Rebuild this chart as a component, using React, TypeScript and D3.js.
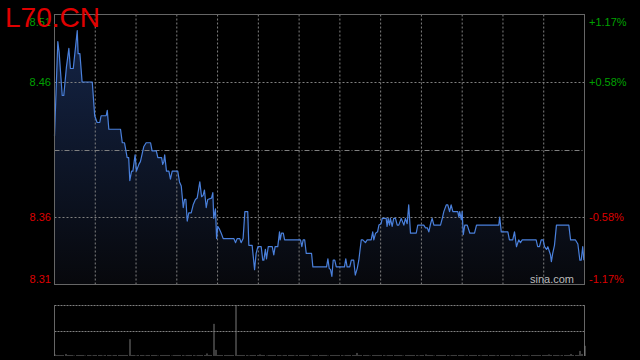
import React from "react";
import * as d3 from "d3";

const TITLE = "L70.CN";
const PRICE_MIN = 8.31;
const PRICE_MAX = 8.51;
const PREV_CLOSE = 8.41;
const MINUTES = 240;
const GRID_COLS = 13;
const VOL_MAX = 100;

const priceTicks = [8.51, 8.46, 8.36, 8.31];
const priceLabels = ["8.51", "8.46", "8.36", "8.31"];
const pctLabels = ["+1.17%", "+0.58%", "-0.58%", "-1.17%"];

// minute positions of polyline vertices
const priceT = [
  0, 1.5, 2.1, 3.5, 4.2, 5.4, 6.5, 7.2, 8.5, 10.3, 10.7, 11.5, 12.5, 17.1, 18.2, 19.3, 20.5, 21.1, 23.4, 23.9,
  24.6, 29.9, 30.7, 31.7, 32.9, 33.6, 34.1, 34.9, 35.5, 36.5, 37.1, 38.2, 38.9, 40.4, 41.5, 43.5, 44.2, 46.1, 46.8, 48.5,
  49.0, 49.5, 49.9, 50.7, 51.8, 52.5, 53.3, 55.8, 56.6, 57.4, 58.3, 58.9, 59.5, 60.1, 60.8, 61.9, 62.8, 63.8, 64.6, 65.8,
  66.6, 67.3, 67.9, 68.7, 69.4, 71.1, 71.7, 72.1, 72.9, 73.4, 73.9, 74.7, 75.5, 76.4, 81.2, 82.0, 82.7, 83.9, 84.5, 85.4,
  86.2, 87.5, 88.0, 89.5, 90.6, 91.3, 92.1, 93.6, 94.3, 94.8, 95.5, 96.0, 96.8, 98.6, 99.3, 99.9, 101.1, 101.9, 102.2, 102.8,
  103.6, 104.2, 111.4, 112.0, 112.6, 113.3, 114.0, 116.4, 117.0, 123.2, 123.8, 124.4, 125.0, 125.6, 126.2, 126.9, 127.6, 131.3, 131.9, 132.5,
  133.7, 134.4, 135.5, 136.2, 137.1, 137.8, 138.9, 139.6, 140.8, 141.6, 143.4, 144.1, 144.6, 145.4, 146.3, 146.9, 147.9, 148.4, 150.2, 150.6,
  151.1, 151.7, 152.1, 152.9, 153.6, 154.4, 155.2, 155.9, 157.0, 158.2, 158.9, 159.7, 160.4, 161.2, 163.8, 164.5, 167.2, 168.0, 168.8, 169.5,
  170.3, 171.0, 171.8, 174.8, 175.6, 176.3, 177.4, 178.1, 178.9, 179.6, 180.4, 182.6, 183.1, 183.5, 184.2, 184.6, 185.1, 185.8, 186.9, 188.1,
  190.2, 191.1, 201.2, 201.6, 202.3, 205.3, 206.0, 207.5, 208.3, 209.2, 210.2, 211.0, 211.8, 218.1, 218.8, 219.6, 220.4, 221.3, 221.9, 222.8,
  223.4, 224.6, 225.0, 225.6, 226.4, 227.3, 232.9, 233.7, 235.9, 237.0, 237.9, 238.5, 239.2, 239.7,
];

const priceV = [
  8.420, 8.490, 8.482, 8.450, 8.450, 8.471, 8.485, 8.470, 8.470, 8.498, 8.481, 8.481, 8.460, 8.460, 8.435, 8.430, 8.430, 8.435, 8.435, 8.439,
  8.425, 8.425, 8.415, 8.415, 8.404, 8.404, 8.387, 8.394, 8.394, 8.406, 8.394, 8.399, 8.401, 8.412, 8.415, 8.415, 8.409, 8.409, 8.404, 8.404,
  8.399, 8.401, 8.406, 8.394, 8.394, 8.388, 8.394, 8.394, 8.386, 8.383, 8.367, 8.373, 8.373, 8.357, 8.363, 8.363, 8.369, 8.373, 8.374, 8.386,
  8.375, 8.376, 8.380, 8.367, 8.373, 8.374, 8.378, 8.359, 8.366, 8.344, 8.353, 8.351, 8.348, 8.344, 8.344, 8.341, 8.344, 8.344, 8.341, 8.344,
  8.364, 8.364, 8.339, 8.339, 8.321, 8.333, 8.338, 8.338, 8.328, 8.328, 8.336, 8.329, 8.338, 8.338, 8.332, 8.338, 8.338, 8.349, 8.343, 8.348,
  8.348, 8.343, 8.343, 8.338, 8.343, 8.343, 8.333, 8.333, 8.323, 8.323, 8.329, 8.322, 8.321, 8.316, 8.328, 8.328, 8.323, 8.323, 8.329, 8.323,
  8.323, 8.328, 8.328, 8.317, 8.322, 8.328, 8.343, 8.343, 8.341, 8.343, 8.343, 8.349, 8.343, 8.348, 8.349, 8.354, 8.355, 8.359, 8.359, 8.353,
  8.359, 8.354, 8.359, 8.353, 8.359, 8.359, 8.354, 8.354, 8.359, 8.354, 8.359, 8.355, 8.369, 8.348, 8.348, 8.354, 8.354, 8.352, 8.352, 8.349,
  8.355, 8.359, 8.354, 8.354, 8.359, 8.364, 8.369, 8.369, 8.364, 8.369, 8.364, 8.364, 8.360, 8.364, 8.358, 8.364, 8.347, 8.354, 8.354, 8.348,
  8.348, 8.354, 8.354, 8.360, 8.349, 8.349, 8.343, 8.343, 8.349, 8.338, 8.343, 8.341, 8.343, 8.343, 8.338, 8.338, 8.343, 8.343, 8.338, 8.336,
  8.338, 8.332, 8.327, 8.333, 8.339, 8.354, 8.354, 8.343, 8.343, 8.340, 8.328, 8.328, 8.338, 8.328,
];

// per-minute volume (relative)
const volume = [
  3, 2, 2, 2, 2, 4, 2, 2, 2, 1, 2, 2, 2, 2, 1, 2, 2, 1, 2, 2,
  2, 2, 1, 2, 2, 2, 1, 2, 2, 2, 2, 2, 2, 2, 33, 2, 2, 1, 2, 2,
  2, 1, 2, 2, 2, 2, 2, 1, 2, 2, 2, 2, 2, 1, 2, 2, 2, 2, 2, 1,
  2, 2, 2, 2, 1, 2, 2, 2, 2, 5, 2, 2, 63, 12, 2, 2, 2, 2, 2, 2,
  2, 2, 100, 2, 2, 2, 2, 2, 1, 2, 2, 2, 2, 3, 2, 2, 1, 2, 2, 2,
  2, 2, 2, 1, 2, 2, 2, 2, 2, 1, 2, 2, 2, 2, 2, 2, 1, 2, 2, 2,
  2, 2, 2, 2, 1, 2, 2, 2, 2, 2, 2, 1, 2, 2, 2, 2, 2, 6, 2, 2,
  2, 2, 2, 1, 2, 2, 2, 2, 2, 2, 1, 2, 2, 2, 2, 2, 2, 2, 1, 2,
  2, 2, 2, 2, 2, 1, 2, 2, 3, 2, 2, 2, 1, 2, 2, 2, 2, 2, 2, 1,
  2, 2, 2, 2, 2, 2, 1, 2, 2, 2, 2, 2, 2, 1, 2, 2, 2, 2, 2, 2,
  1, 2, 2, 2, 2, 2, 2, 2, 1, 2, 2, 2, 2, 2, 2, 1, 2, 2, 2, 2,
  2, 2, 2, 2, 3, 2, 2, 2, 2, 1, 2, 2, 2, 2, 4, 2, 2, 2, 10, 4, 20,
];

const FONT = "'Liberation Sans', Arial, Helvetica, sans-serif";
const GREEN = "#00a000";
const RED = "#dd0000";
const GRID = "#808080";
const FRAME = "#666666";

export default function App() {
  const W = 640, H = 360;
  const L = 54.5, R = 584.5, T = 14.5, B = 284.5;
  const VT = 305, VB = 356;

  const x = d3.scaleLinear().domain([0, MINUTES]).range([L, R]);
  const y = d3.scaleLinear().domain([PRICE_MIN, PRICE_MAX]).range([B, T]);
  const yv = d3.scaleLinear().domain([0, VOL_MAX]).range([VB, VT]);

  const pts: [number, number][] = priceT.map((t, i) => [t, priceV[i]]);
  const line = d3.line<[number, number]>().x(d => x(d[0])).y(d => y(d[1]));
  const area = d3.area<[number, number]>().x(d => x(d[0])).y0(y(PRICE_MIN)).y1(d => y(d[1]));

  const cols = d3.range(1, GRID_COLS).map(k => L + (k * (R - L)) / GRID_COLS);

  const labelY = (i: number, v: number) => {
    const yy = y(v);
    if (i === 0) return yy + 7 + 4;
    if (i === priceTicks.length - 1) return yy - 6 + 4;
    return yy + 4;
  };

  return (
    <svg width={W} height={H} style={{ position: "absolute", left: 0, top: 0, background: "#000" }}>
      <defs>
        <linearGradient id="fillG" gradientUnits="userSpaceOnUse" x1="0" y1={T} x2="0" y2={B}>
          <stop offset="0%" stopColor="#15264a" />
          <stop offset="100%" stopColor="#07080c" />
        </linearGradient>
      </defs>
      <rect x={0} y={0} width={W} height={H} fill="#000" />

      {/* area */}
      <path d={area(pts) || ""} fill="url(#fillG)" />

      {/* grid */}
      {cols.map((cx, i) => (
        <line key={"c" + i} x1={cx} x2={cx} y1={T} y2={B} stroke={GRID} strokeDasharray="2,2" strokeWidth={1} />
      ))}
      {[PRICE_MAX - 0.05, PRICE_MIN + 0.05].map((v, i) => (
        <line key={"h" + i} x1={L} x2={R} y1={Math.round(y(v)) + 0.5} y2={Math.round(y(v)) + 0.5} stroke={GRID} strokeDasharray="2,2" />
      ))}
      <line x1={L} x2={R} y1={Math.round(y(PREV_CLOSE)) + 0.5} y2={Math.round(y(PREV_CLOSE)) + 0.5} stroke={GRID} strokeDasharray="5,2,1,2" />

      <text x={574} y={283} fontFamily={FONT} fontSize={11} fill="#bbbbbb" textAnchor="end">sina.com</text>

      {/* line */}
      <path d={line(pts) || ""} fill="none" stroke="#4a80dc" strokeWidth={1.2} strokeLinejoin="round" />

      {/* frame */}
      <rect x={L} y={T} width={R - L} height={B - T} fill="none" stroke={FRAME} strokeWidth={1} />

      {/* labels */}
      {priceTicks.map((v, i) => (
        <text key={"l" + i} x={51} y={labelY(i, v)} fontFamily={FONT} fontSize={11} textAnchor="end" fill={v > PREV_CLOSE ? GREEN : RED}>
          {priceLabels[i]}
        </text>
      ))}
      {priceTicks.map((v, i) => (
        <text key={"r" + i} x={589} y={labelY(i, v)} fontFamily={FONT} fontSize={11} textAnchor="start" fill={v > PREV_CLOSE ? GREEN : RED}>
          {pctLabels[i]}
        </text>
      ))}

      {/* volume panel */}
      <line x1={L} x2={R} y1={VT + 0.5} y2={VT + 0.5} stroke={GRID} strokeDasharray="2,1" />
      <line x1={L} x2={R} y1={Math.round((VT + VB) / 2) + 0.5} y2={Math.round((VT + VB) / 2) + 0.5} stroke={GRID} strokeDasharray="2,1" />
      <line x1={L} x2={L} y1={VT} y2={VB} stroke={FRAME} />
      <line x1={R} x2={R} y1={VT} y2={VB} stroke={FRAME} />
      {volume.map((v, i) => (
        <rect key={"v" + i} x={Math.round(x(i)) - 0.5} y={yv(v)} width={1} height={VB - yv(v)} fill="#7a7a7a" />
      ))}

      <text x={5} y={27} fontFamily={FONT} fontSize={28} fill="#e00000">{TITLE}</text>
    </svg>
  );
}
